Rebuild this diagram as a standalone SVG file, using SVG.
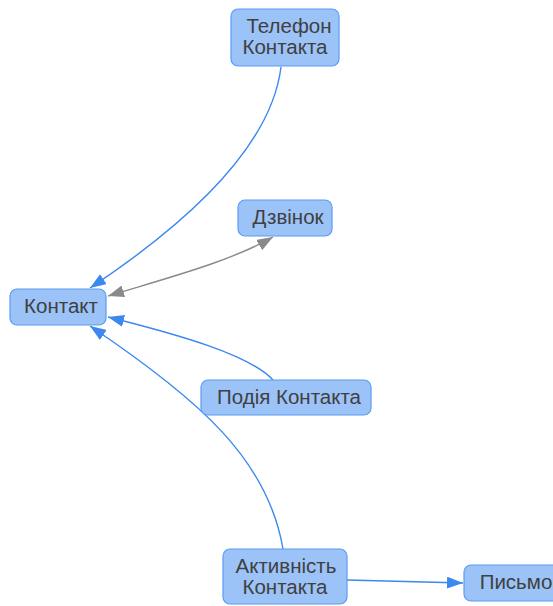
<svg xmlns="http://www.w3.org/2000/svg" width="553" height="606" viewBox="0 0 553 606">
<style>
.node rect{fill:#9cc3f7;stroke:#5b9cf2;stroke-width:1.2}
.node text{font-family:"Liberation Sans",Arial,sans-serif;font-size:20.5px;fill:#404040;text-anchor:middle}
.edge{fill:none;stroke-width:1.4}
.blue{stroke:#3b88ee}
.gray{stroke:#8a8a8a}
</style>
<defs>
<marker id="ab" viewBox="0 0 16 12" refX="16" refY="6" markerWidth="16" markerHeight="12" markerUnits="userSpaceOnUse" orient="auto-start-reverse"><path d="M0,0 L16,6 L0,12 z" fill="#3b88ee"/></marker>
<marker id="ag" viewBox="0 0 16 12" refX="16" refY="6" markerWidth="16" markerHeight="12" markerUnits="userSpaceOnUse" orient="auto-start-reverse"><path d="M0,0 L16,6 L0,12 z" fill="#8a8a8a"/></marker>
</defs>
<g id="connectors">
<path class="edge blue" d="M281,67 C272,140 200,215 90,288" marker-end="url(#ab)"/>
<path class="edge gray" d="M273,237 C230,262 160,280 108,296" marker-start="url(#ag)" marker-end="url(#ag)"/>
<path class="edge blue" d="M273,380 C250,355 180,335 108,317" marker-end="url(#ab)"/>
<path class="edge blue" d="M283,549 C268,460 200,400 90,326" marker-end="url(#ab)"/>
<path class="edge blue" d="M347,580 C390,581 420,582 463,583" marker-end="url(#ab)"/>
</g>
<g id="n-telefon" class="node"><rect x="231" y="9" width="108" height="57" rx="7"/><text x="289" y="33">Телефон</text><text x="285" y="54">Контакта</text></g>
<g id="n-dzvinok" class="node"><rect x="238" y="200" width="94" height="36" rx="7"/><text x="288" y="224">Дзвінок</text></g>
<g id="n-kontakt" class="node"><rect x="10" y="289" width="96" height="36" rx="7"/><text x="61" y="313">Контакт</text></g>
<g id="n-podiia" class="node"><rect x="201" y="380" width="170" height="35" rx="7"/><text x="289" y="404">Подія Контакта</text></g>
<g id="n-aktyvnist" class="node"><rect x="223" y="549" width="124" height="55" rx="7"/><text x="286" y="573">Активність</text><text x="285" y="594">Контакта</text></g>
<g id="n-pysmo" class="node"><rect x="464" y="565" width="100" height="36" rx="7"/><text x="516" y="589">Письмо</text></g>
</svg>
